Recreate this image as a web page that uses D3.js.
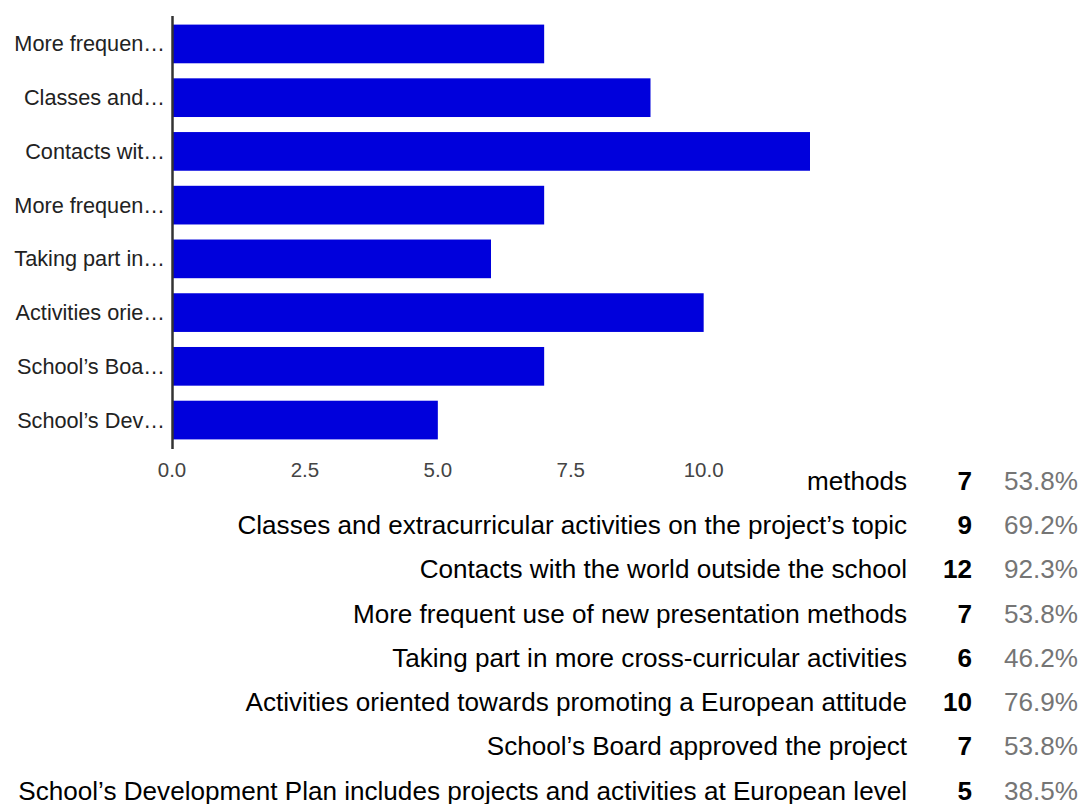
<!DOCTYPE html>
<html>
<head>
<meta charset="utf-8">
<script src="https://cdn.jsdelivr.net/npm/d3@7"></script>
<style>
  html, body { margin: 0; padding: 0; background: #fff; }
  svg { display: block; font-family: Arial, "Liberation Sans", sans-serif; }
</style>
</head>
<body>
<svg id="chart" width="1086" height="804"></svg>
<script>
// ---- data ----
const categories = [
  "More frequent use of new teaching methods",
  "Classes and extracurricular activities on the project\u2019s topic",
  "Contacts with the world outside the school",
  "More frequent use of new presentation methods",
  "Taking part in more cross-curricular activities",
  "Activities oriented towards promoting a European attitude",
  "School\u2019s Board approved the project",
  "School\u2019s Development Plan includes projects and activities at European level"
];
const axisLabels = [
  "More frequen\u2026",
  "Classes and\u2026",
  "Contacts wit\u2026",
  "More frequen\u2026",
  "Taking part in\u2026",
  "Activities orie\u2026",
  "School\u2019s Boa\u2026",
  "School\u2019s Dev\u2026"
];
const counts = [7, 9, 12, 7, 6, 10, 7, 5];
const percents = ["53.8%", "69.2%", "92.3%", "53.8%", "46.2%", "76.9%", "53.8%", "38.5%"];
const xTicks = [0, 2.5, 5, 7.5, 10];

// ---- layout ----
const svg = d3.select("#chart");
const idx = d3.range(categories.length);

// the chart box hides whatever of the table lies beneath it
const defs = svg.append("defs");
defs.append("clipPath").attr("id", "tableClip")
  .append("path")
  .attr("d", "M805,0H1086V804H0V503H805Z");

const rowY = d3.scaleLinear().domain([0, categories.length - 1]).range([490, 799.5]);
const TF = 26.1;
const table = svg.append("g").attr("class", "table").attr("clip-path", "url(#tableClip)");
table.selectAll("text.label").data(idx).join("text")
  .attr("class", "label")
  .attr("x", 907).attr("y", i => rowY(i))
  .attr("text-anchor", "end")
  .attr("font-size", TF).attr("fill", "#000")
  .text(i => categories[i]);
table.selectAll("text.count").data(idx).join("text")
  .attr("class", "count")
  .attr("x", 972).attr("y", i => rowY(i))
  .attr("text-anchor", "end")
  .attr("font-size", TF).attr("font-weight", "bold").attr("fill", "#000")
  .text(i => counts[i]);
table.selectAll("text.pct").data(idx).join("text")
  .attr("class", "pct")
  .attr("x", 1004).attr("y", i => rowY(i))
  .attr("font-size", TF).attr("fill", "#757575")
  .text(i => percents[i]);

// chart
const chart = svg.append("g").attr("class", "chart");

const x = d3.scaleLinear().domain([0, 12]).range([172, 810]);
const y = d3.scaleBand().domain(idx).range([16, 448]).paddingInner(0.28).paddingOuter(0.16);

chart.selectAll("rect.bar").data(idx).join("rect")
  .attr("class", "bar")
  .attr("x", x(0))
  .attr("y", i => y(i))
  .attr("width", i => x(counts[i]) - x(0))
  .attr("height", y.bandwidth())
  .attr("fill", "#0000dc");

chart.selectAll("text.ylab").data(idx).join("text")
  .attr("class", "ylab")
  .attr("x", 165)
  .attr("y", i => y(i) + y.bandwidth() / 2 + 7.5)
  .attr("text-anchor", "end")
  .attr("font-size", 21.7)
  .attr("fill", "#222")
  .text(i => axisLabels[i]);

chart.selectAll("text.xtick").data(xTicks).join("text")
  .attr("class", "xtick")
  .attr("x", d => x(d))
  .attr("y", 477)
  .attr("text-anchor", "middle")
  .attr("font-size", 20.5)
  .attr("fill", "#444")
  .text(d => d3.format(".1f")(d));

chart.append("line")
  .attr("x1", 172.5).attr("x2", 172.5)
  .attr("y1", 16).attr("y2", 449)
  .attr("stroke", "#333").attr("stroke-width", 2.5);
</script>
</body>
</html>
